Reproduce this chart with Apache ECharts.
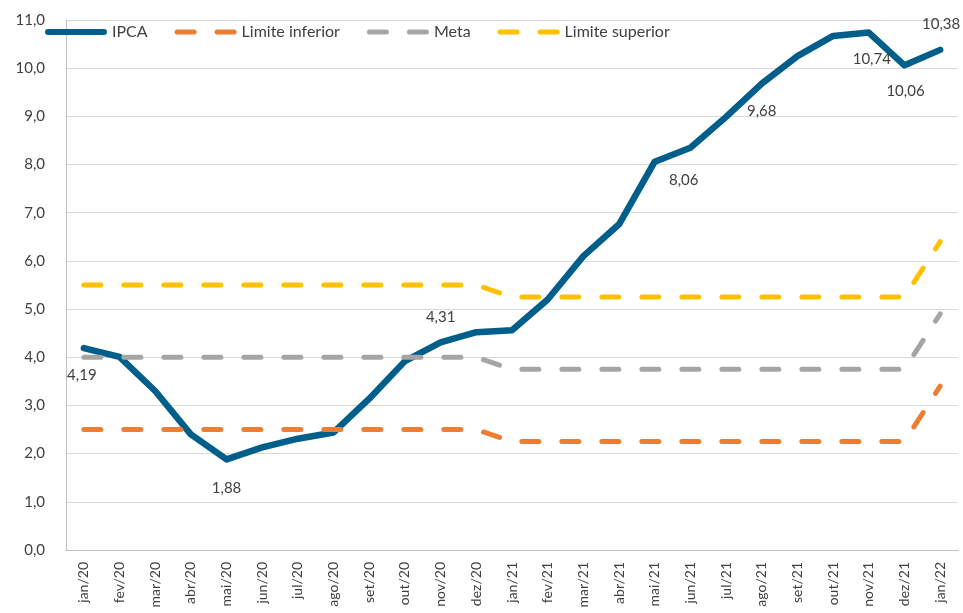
<!DOCTYPE html>
<html>
<head>
<meta charset="utf-8">
<script src="https://cdn.jsdelivr.net/npm/echarts@6/dist/echarts.min.js"></script>
<style>
  html, body { margin: 0; padding: 0; background: #fff; }
  #chart { width: 963px; height: 613px; }
</style>
</head>
<body>
<div id="chart"></div>
<script>
const months = ['jan/20', 'fev/20', 'mar/20', 'abr/20', 'mai/20', 'jun/20', 'jul/20', 'ago/20', 'set/20', 'out/20', 'nov/20', 'dez/20',
    'jan/21', 'fev/21', 'mar/21', 'abr/21', 'mai/21', 'jun/21', 'jul/21', 'ago/21', 'set/21', 'out/21', 'nov/21', 'dez/21', 'jan/22'];
const ipca = [4.19, 4.01, 3.30, 2.40, 1.88, 2.13, 2.31, 2.44, 3.14, 3.92, 4.31, 4.52,
    4.56, 5.20, 6.10, 6.76, 8.06, 8.35, 8.99, 9.68, 10.25, 10.67, 10.74, 10.06, 10.38];
const limiteInferior = [2.5, 2.5, 2.5, 2.5, 2.5, 2.5, 2.5, 2.5, 2.5, 2.5, 2.5, 2.5,
    2.25, 2.25, 2.25, 2.25, 2.25, 2.25, 2.25, 2.25, 2.25, 2.25, 2.25, 2.25, 3.4];
const meta = [4.0, 4.0, 4.0, 4.0, 4.0, 4.0, 4.0, 4.0, 4.0, 4.0, 4.0, 4.0,
    3.75, 3.75, 3.75, 3.75, 3.75, 3.75, 3.75, 3.75, 3.75, 3.75, 3.75, 3.75, 4.9];
const limiteSuperior = [5.5, 5.5, 5.5, 5.5, 5.5, 5.5, 5.5, 5.5, 5.5, 5.5, 5.5, 5.5,
    5.25, 5.25, 5.25, 5.25, 5.25, 5.25, 5.25, 5.25, 5.25, 5.25, 5.25, 5.25, 6.4];
// points of IPCA that carry a value label
const labelled = [0, 4, 10, 16, 19, 22, 23, 24];

const fmt = v => v.toFixed(2).replace('.', ',');
const txt = '#404040';
const font = 'Lato';

// label placement (offset from the point) per labelled month
const labelOffset = {
    0: [-2, 27], 4: [0, 29], 10: [0, -25], 16: [29, 19],
    19: [0, 28], 22: [3, 27], 23: [1, 26], 24: [1, -26]
};

const ipcaData = ipca.map((v, i) => {
    if (labelled.indexOf(i) < 0) return v;
    return {
        value: v,
        label: {
            show: true, position: 'inside', offset: labelOffset[i],
            formatter: fmt(v), color: txt, fontSize: 15, fontFamily: font
        }
    };
});

const solidIcon = 'path://M3,0h56a3,3 0 0 1 0,6h-56a3,3 0 0 1 0,-6z';
const dashIcon = 'path://M2.5,0h17a2.5,2.5 0 0 1 0,5h-17a2.5,2.5 0 0 1 0,-5z M42.5,0h17a2.5,2.5 0 0 1 0,5h-17a2.5,2.5 0 0 1 0,-5z';

function dashed(name, data, color) {
    return {
        name: name,
        type: 'line',
        data: data,
        symbol: 'none',
        itemStyle: { color: color },
        lineStyle: { color: color, width: 5, type: [17, 23], cap: 'round' },
        emphasis: { disabled: true }
    };
}

const chart = echarts.init(document.getElementById('chart'));
chart.setOption({
    animation: false,
    textStyle: { fontFamily: font },
    grid: { left: 66, right: 5, top: 20, bottom: 63, containLabel: false },
    legend: {
        left: 45, top: 24, padding: 0,
        itemWidth: 62, itemHeight: 14, itemGap: 27,
        textStyle: { color: txt, fontSize: 16, fontFamily: font },
        data: [
            { name: 'IPCA', icon: solidIcon },
            { name: 'Limite inferior', icon: dashIcon },
            { name: 'Meta', icon: dashIcon },
            { name: 'Limite superior', icon: dashIcon }
        ],
        selectedMode: false
    },
    xAxis: {
        type: 'category',
        data: months,
        boundaryGap: true,
        axisLine: { lineStyle: { color: '#bfbfbf', width: 1 } },
        axisTick: { show: false },
        axisLabel: { rotate: 90, margin: 12, color: txt, fontSize: 14, fontFamily: font, interval: 0 }
    },
    yAxis: {
        type: 'value',
        min: 0, max: 11, interval: 1,
        axisLine: { show: true, lineStyle: { color: '#bfbfbf', width: 1 } },
        axisTick: { show: false },
        splitLine: { lineStyle: { color: '#d9d9d9', width: 1 } },
        axisLabel: {
            margin: 21, color: txt, fontSize: 15, fontFamily: font,
            formatter: v => v.toFixed(1).replace('.', ',')
        }
    },
    series: [
        {
            name: 'IPCA',
            type: 'line',
            data: ipcaData,
            symbol: 'circle',
            symbolSize: 0,
            showSymbol: true,
            showAllSymbol: true,
            itemStyle: { color: '#005f8a' },
            lineStyle: { color: '#005f8a', width: 6.5, cap: 'round', join: 'round' },
            emphasis: { disabled: true }
        },
        dashed('Limite inferior', limiteInferior, '#ed7d31'),
        dashed('Meta', meta, '#a5a5a5'),
        dashed('Limite superior', limiteSuperior, '#ffc000')
    ]
});
</script>
</body>
</html>
